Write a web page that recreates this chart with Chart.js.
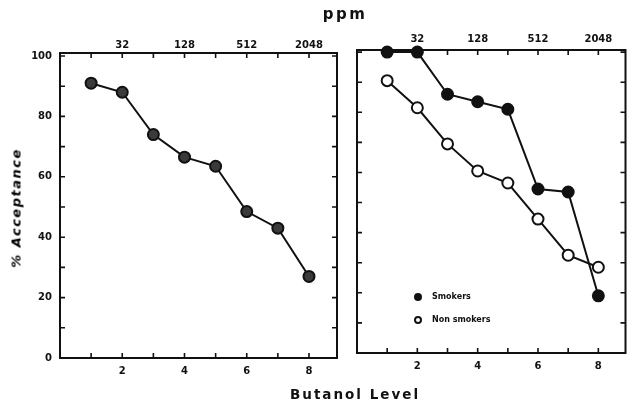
<!DOCTYPE html>
<html>
<head>
<meta charset="utf-8">
<script src="https://cdn.jsdelivr.net/npm/chart.js@4/dist/chart.umd.min.js"></script>
<style>
  html, body { margin: 0; padding: 0; background: #fff; }
  #wrap { position: relative; width: 633px; height: 405px; overflow: hidden; font-family: "DejaVu Sans", sans-serif; color: #111; }
  canvas { position: absolute; left: 0; top: 0; }
  .title { position: absolute; font-weight: bold; white-space: nowrap; }
  #ppm { left: 345px; top: 5px; font-size: 15px; letter-spacing: 2.5px; transform: translateX(-50%); }
  #xlab { left: 355px; top: 386px; font-size: 13.5px; letter-spacing: 2px; transform: translateX(-50%); }
  #ylab { left: 16px; top: 208px; font-size: 13px; font-style: italic; letter-spacing: 1.5px; color: #000; transform: translate(-50%, -50%) rotate(-90deg); }
  .leg { position: absolute; font-size: 8px; font-weight: bold; white-space: nowrap; }
  .dot { position: absolute; width: 8px; height: 8px; border-radius: 50%; box-sizing: border-box; }
</style>
</head>
<body>
<div id="wrap">
  <canvas id="leftPanel" width="633" height="405"></canvas>
  <canvas id="rightPanel" width="633" height="405"></canvas>
  <div class="title" id="ppm">ppm</div>
  <div class="title" id="xlab">Butanol Level</div>
  <div class="title" id="ylab">% Acceptance</div>
  <div class="dot" style="left:414px; top:293px; background:#111; border:2px solid #111;"></div>
  <div class="leg" style="left:432px; top:292px;">Smokers</div>
  <div class="dot" style="left:414px; top:316px; background:#fff; border:2px solid #111;"></div>
  <div class="leg" style="left:432px; top:315px;">Non smokers</div>
</div>
<script>
// Butanol levels and acceptance percentages
const levels = [1, 2, 3, 4, 5, 6, 7, 8];
const allSubjects = [91, 88, 74, 66.5, 63.5, 48.5, 43, 27];
const smokers = [100, 100, 86, 83.5, 81, 54.5, 53.5, 19];
const nonSmokers = [90.5, 81.5, 69.5, 60.5, 56.5, 44.5, 32.5, 28.5];

// Axis labels
const yTickValues = [0, 20, 40, 60, 80, 100];
const xTickValues = [2, 4, 6, 8];
const ppmLevels = [2, 4, 6, 8];
const ppmLabels = ['32', '128', '512', '2048'];

Chart.defaults.font.family = '"DejaVu Sans", sans-serif';
Chart.defaults.font.weight = 'bold';
Chart.defaults.font.size = 10;
Chart.defaults.color = '#111';
Chart.defaults.animation = false;

const ink = '#111';

// Box frame with inward tick marks, drawn from the chart's own scales
const framePlugin = {
  id: 'frameTicks',
  beforeDatasetsDraw(chart) {
    const ctx = chart.ctx;
    const { left, right, top, bottom } = chart.chartArea;
    const xs = chart.scales.x, ys = chart.scales.y;
    const tl = 5;
    ctx.save();
    ctx.strokeStyle = ink;
    ctx.lineWidth = 2;
    ctx.strokeRect(left, top, right - left, bottom - top);
    ctx.lineWidth = 1.6;
    ctx.beginPath();
    levels.forEach(v => {
      const px = xs.getPixelForValue(v);
      ctx.moveTo(px, bottom); ctx.lineTo(px, bottom - tl);
      ctx.moveTo(px, top); ctx.lineTo(px, top + tl);
    });
    for (let v = 10; v <= 100; v += 10) {
      const py = ys.getPixelForValue(v);
      ctx.moveTo(left, py); ctx.lineTo(left + tl, py);
      ctx.moveTo(right, py); ctx.lineTo(right - tl, py);
    }
    ctx.stroke();
    ctx.restore();
  }
};

function fixed(size, dim) {
  return scale => { scale[dim] = size; };
}

function makeScales(o) {
  return {
    x: {
      type: 'linear', position: 'bottom', min: 0, max: 8.9,
      grid: { display: false, drawTicks: false }, border: { display: false },
      afterBuildTicks: s => { s.ticks = xTickValues.map(v => ({ value: v })); },
      ticks: { padding: o.bottomPad, maxRotation: 0, autoSkip: false, callback: v => String(v) },
      afterFit: fixed(o.bottomH, 'height')
    },
    x2: {
      type: 'linear', position: 'top', min: 0, max: 8.9,
      grid: { display: false, drawTicks: false }, border: { display: false },
      afterBuildTicks: s => { s.ticks = ppmLevels.map(v => ({ value: v })); },
      ticks: { padding: o.topPad, maxRotation: 0, autoSkip: false,
               callback: v => ppmLabels[ppmLevels.indexOf(v)] },
      afterFit: fixed(o.topH, 'height')
    },
    y: {
      type: 'linear', position: 'left', min: 0, max: o.yMax,
      display: o.showY,
      grid: { display: false, drawTicks: false }, border: { display: false },
      afterBuildTicks: s => { s.ticks = yTickValues.map(v => ({ value: v })); },
      ticks: { padding: 8, autoSkip: false, callback: v => String(v) },
      afterFit: fixed(o.yW, 'width')
    }
  };
}

function series(data, fill) {
  return {
    data: levels.map((x, i) => ({ x, y: data[i] })),
    borderColor: ink, borderWidth: 2,
    pointRadius: 5.5, pointBorderWidth: 2,
    pointBackgroundColor: fill, pointBorderColor: ink,
    tension: 0, clip: false
  };
}

const common = {
  responsive: false,
  plugins: { legend: { display: false }, tooltip: { enabled: false } },
  events: []
};

new Chart(document.getElementById('leftPanel'), {
  type: 'line',
  data: { datasets: [series(allSubjects, '#3a3a3a')] },
  options: Object.assign({}, common, {
    layout: { padding: { left: 0, right: 296, top: 0, bottom: 0 } },
    scales: makeScales({ bottomH: 47, topH: 53, yW: 60, yMax: 101, showY: true, bottomPad: 7, topPad: 2 })
  }),
  plugins: [framePlugin]
});

new Chart(document.getElementById('rightPanel'), {
  type: 'line',
  data: { datasets: [series(smokers, ink), series(nonSmokers, '#fff')] },
  options: Object.assign({}, common, {
    layout: { padding: { left: 357, right: 3, top: 0, bottom: 0 } },
    scales: makeScales({ bottomH: 52, topH: 50, yW: 0, yMax: 100.7, showY: false, bottomPad: 7, topPad: 5 })
  }),
  plugins: [framePlugin]
});
</script>
</body>
</html>
